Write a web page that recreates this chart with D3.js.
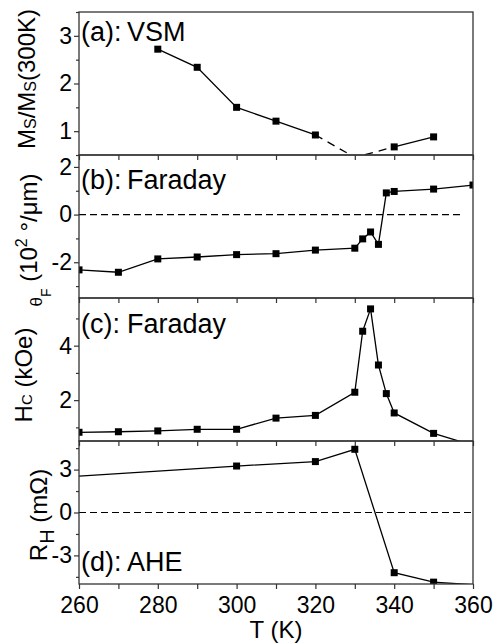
<!DOCTYPE html>
<html lang="en">
<head>
<meta charset="UTF-8">
<title>T dependence</title>
<script src="https://cdn.jsdelivr.net/npm/d3@7/dist/d3.min.js"></script>
<style>
  body { margin: 0; background: #fff; }
  text { font-family: "Liberation Sans", Arial, sans-serif; fill: #000; }
</style>
</head>
<body>
<svg width="494" height="644"></svg>
<script>
// (a) VSM
var T_a = [280, 290, 300, 310, 320, 330, 340, 350];
var M_a = [2.72, 2.34, 1.50, 1.21, 0.92, 0.45, 0.67, 0.88];
var dashFrom_a = 320, dashTo_a = 340;
// (b) Faraday rotation
var T_b = [260, 270, 280, 290, 300, 310, 320, 330, 332, 334, 336, 338, 340, 350, 360];
var F_b = [-2.32, -2.42, -1.86, -1.78, -1.68, -1.64, -1.49, -1.41, -1.02, -0.73, -1.25, 0.91, 0.97, 1.07, 1.24];
// (c) coercive field
var T_c = [260, 270, 280, 290, 300, 310, 320, 330, 332, 334, 336, 338, 340, 350, 360];
var H_c = [0.82, 0.84, 0.87, 0.93, 0.93, 1.34, 1.44, 2.29, 4.53, 5.35, 3.29, 2.24, 1.53, 0.78, 0.34];
// (d) AHE
var T_d = [250, 300, 320, 330, 340, 350, 360];
var R_d = [2.36, 3.25, 3.56, 4.42, -4.21, -4.87, -5.05];

var xTicks = [260, 280, 300, 320, 340, 360];
var xMinor = [270, 290, 310, 330, 350];

var svg = d3.select('svg');
var left = 79, right = 473;
var panelTop = [12, 155, 298, 441], panelH = 143;

var x = d3.scaleLinear().domain([260, 360]).range([left, right]);

var panels = [
  { id: 'a', T: T_a, v: M_a, dom: [0.5, 3.5], major: [1, 2, 3], minor: [0.5, 1.5, 2.5, 3.5],
    tag: '(a):', word: 'VSM', tagY: 41, zero: null },
  { id: 'b', T: T_b, v: F_b, dom: [-3.5, 2.5], major: [-2, 0, 2], minor: [-3, -1, 1],
    tag: '(b):', word: 'Faraday', tagY: 189, zero: [260, 357.5] },
  { id: 'c', T: T_c, v: H_c, dom: [0.5, 5.75], major: [2, 4], minor: [1, 3, 5],
    tag: '(c):', word: 'Faraday', tagY: 333, zero: null },
  { id: 'd', T: T_d, v: R_d, dom: [-5, 5], major: [-3, 0, 3], minor: [-4.5, -1.5, 1.5, 4.5],
    tag: '(d):', word: 'AHE', tagY: 571, zero: [260, 360] }
];

var fmt = function (d) { return String(d); }; // plain hyphen minus like the original

panels.forEach(function (p, i) {
  var top = panelTop[i], bot = top + panelH;
  var y = d3.scaleLinear().domain(p.dom).range([bot, top]);
  var g = svg.append('g');

  svg.append('clipPath').attr('id', 'clip' + p.id)
    .append('rect').attr('x', left).attr('y', top).attr('width', right - left).attr('height', panelH);

  // zero line
  if (p.zero) {
    g.append('line')
      .attr('x1', x(p.zero[0])).attr('x2', x(p.zero[1]))
      .attr('y1', y(0)).attr('y2', y(0))
      .attr('stroke', '#000').attr('stroke-width', 1.2).attr('stroke-dasharray', '7,4');
  }

  var pts = p.T.map(function (t, k) { return [t, p.v[k]]; });
  var line = d3.line().x(function (d) { return x(d[0]); }).y(function (d) { return y(d[1]); });
  var plot = g.append('g').attr('clip-path', 'url(#clip' + p.id + ')');

  if (p.id === 'a') {
    var solid1 = pts.filter(function (d) { return d[0] <= dashFrom_a; });
    var dashed = pts.filter(function (d) { return d[0] >= dashFrom_a && d[0] <= dashTo_a; });
    var solid2 = pts.filter(function (d) { return d[0] >= dashTo_a; });
    [solid1, solid2].forEach(function (s) {
      plot.append('path').attr('d', line(s)).attr('fill', 'none').attr('stroke', '#000').attr('stroke-width', 1.3);
    });
    plot.append('path').attr('d', line(dashed)).attr('fill', 'none').attr('stroke', '#000')
      .attr('stroke-width', 1.3).attr('stroke-dasharray', '8,6');
  } else {
    plot.append('path').attr('d', line(pts)).attr('fill', 'none').attr('stroke', '#000').attr('stroke-width', 1.3);
  }

  // square markers, only where the value is inside the y range
  plot.selectAll('rect.m').data(pts.filter(function (d) { return d[1] >= p.dom[0] && d[1] <= p.dom[1]; }))
    .enter().append('rect')
    .attr('x', function (d) { return x(d[0]) - 3.5; })
    .attr('y', function (d) { return y(d[1]) - 3.5; })
    .attr('width', 7).attr('height', 7).attr('fill', '#000');

  // frame
  g.append('rect').attr('x', left).attr('y', top).attr('width', right - left).attr('height', panelH)
    .attr('fill', 'none').attr('stroke', '#333').attr('stroke-width', 1.3);

  // y axis
  var ay = g.append('g').attr('transform', 'translate(' + left + ',0)')
    .call(d3.axisLeft(y).tickValues(p.major).tickSize(5).tickPadding(2).tickFormat(fmt));
  ay.selectAll('text').style('font-size', '23px');
  g.append('g').attr('transform', 'translate(' + left + ',0)')
    .call(d3.axisLeft(y).tickValues(p.minor).tickSize(3).tickFormat(''));

  // x axis (ticks pointing down)
  var ax = g.append('g').attr('transform', 'translate(0,' + bot + ')')
    .call(d3.axisBottom(x).tickValues(xTicks).tickSize(5).tickPadding(8)
      .tickFormat(i === 3 ? fmt : ''));
  ax.selectAll('text').style('font-size', '23px');
  g.append('g').attr('transform', 'translate(0,' + bot + ')')
    .call(d3.axisBottom(x).tickValues(xMinor).tickSize(5).tickFormat(''));

  g.selectAll('.tick line').attr('stroke', '#333').attr('stroke-width', 1.2);
  g.selectAll('.domain').remove();

  // panel tag
  g.append('text').attr('x', 81).attr('y', p.tagY).style('font-size', '27px').text(p.tag);
  g.append('text').attr('x', 127).attr('y', p.tagY).style('font-size', '27px').text(p.word);
});

// y axis titles: each piece is its own text, laid out along the rotated baseline
// piece = [string, font size, shift to the right of the baseline]
var sp = '\u00a0';
function yTitle(bx, cy, parts) {
  var g = svg.append('g').attr('transform', 'translate(' + bx + ',' + cy + ') rotate(-90)');
  var items = parts.map(function (s) {
    var t = g.append('text').attr('y', s[2] || 0).style('font-size', (s[1] || 24) + 'px').text(s[0]);
    return { t: t, w: t.node().getComputedTextLength() };
  });
  var total = d3.sum(items, function (d) { return d.w; });
  var cur = -total / 2;
  items.forEach(function (d) { d.t.attr('x', cur); cur += d.w; });
}
yTitle(35, 79, [['M'], ['S', 16, 1], ['/M'], ['S', 16, 1], ['(300K)']]);
yTitle(37, 240, [['\u03b8', 17, 5], ['F', 14, 14], [sp + '(10'], ['2', 16, -10], [sp + '\u00b0/\u03bcm)']]);
yTitle(32, 375, [['H'], ['C', 15, 0], [sp + '(kOe)']]);
yTitle(47, 515, [['R'], ['H', 20, 7], [sp + '(m\u03a9)']]);

// x axis title
svg.append('text').attr('x', (left + right) / 2).attr('y', 638).attr('text-anchor', 'middle')
  .style('font-size', '24px').text('T (K)');
</script>
</body>
</html>
